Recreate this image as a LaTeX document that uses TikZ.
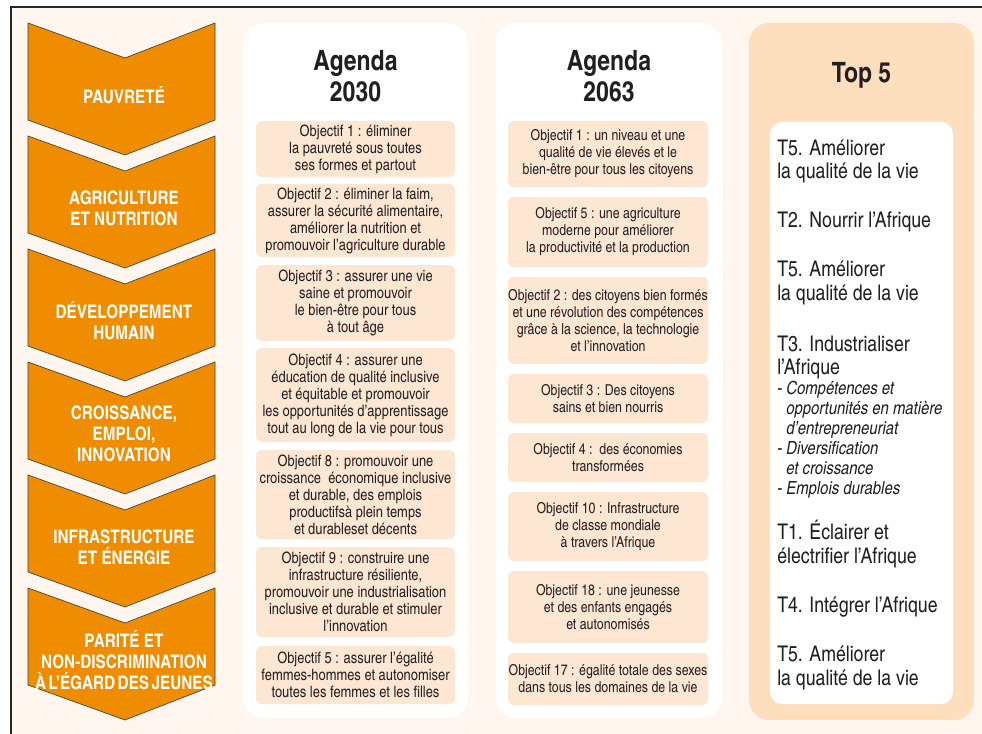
\documentclass[tikz,border=0pt]{standalone}
\usepackage{fontspec}
\setmainfont{texgyreheroscn}[Extension=.otf, UprightFont=*-regular, BoldFont=*-bold, ItalicFont=*-italic, BoldItalicFont=*-bolditalic]

\definecolor{cream}{HTML}{FEF6EF}
\definecolor{chevorange}{HTML}{F08C00}
\definecolor{objfill}{HTML}{FDE7D3}
\definecolor{toppeach}{HTML}{FDDFBD}
\definecolor{ink}{HTML}{231F20}

\tikzset{
  chevron/.style={fill=chevorange, draw=black!75, line width=0.5pt},
  themelabel/.style={text=white, font=\bfseries\fontsize{14}{15.75}\selectfont, align=center, inner sep=0pt},
  panel/.style={fill=white, rounded corners=15pt},
  objbox/.style={fill=objfill, rounded corners=4.5pt},
  objtext/.style={text=ink, font=\fontsize{11.8}{12.75}\selectfont, align=center, inner sep=0pt},
  heading/.style={text=ink, font=\bfseries\fontsize{21}{23.5}\selectfont, align=center, inner sep=0pt},
  topitem/.style={text=ink, font=\fontsize{16.2}{17.5}\selectfont, align=left, anchor=west, inner sep=0pt},
  subitem/.style={text=ink, font=\itshape\fontsize{13.6}{15}\selectfont, align=left, anchor=west, inner sep=0pt}
}

\begin{document}
\begin{tikzpicture}[x=0.75pt, y=-0.75pt]
  \useasboundingbox (0,0) rectangle (982,734);
  \fill[white] (0,0) rectangle (982,734);
  \fill[cream] (11,7) rectangle (982,734);
  \draw[black!85, line width=1.2pt] (982,7) -- (11,7) -- (11,734);

  % themes
  \foreach \t/\name/\txt in {23/pov/{PAUVRETÉ}, 136/agr/{AGRICULTURE\\ET NUTRITION},
      249/dev/{DÉVELOPPEMENT\\HUMAIN}, 362/cro/{CROISSANCE,\\EMPLOI,\\INNOVATION},
      475/inf/{INFRASTRUCTURE\\ET ÉNERGIE},
      588/par/{PARITÉ ET\\NON-DISCRIMINATION\\À\hspace{0.13em}L’ÉGARD\hspace{0.13em}DES\hspace{0.13em}JEUNES}} {
    \draw[chevron] (28,\t) -- (125,\t+35) -- (215,\t) -- (215,\t+97) -- (125,\t+132) -- (28,\t+97) -- cycle;
    \node[themelabel] (\name) at (124,\t+72) {\txt};
  }

  % panels
  \fill[panel] (243,23) rectangle (468,718);
  \fill[panel] (496,23) rectangle (722,718);
  \fill[panel, fill=toppeach] (749,23) rectangle (974,720);
  \fill[white, rounded corners=9pt] (770,122) rectangle (953,704);
  \node[heading] (ag30) at (355.5,76) {Agenda\\2030};
  \node[heading] (ag63) at (609,76) {Agenda\\2063};
  \node[heading] (top) at (861.5,75.5) {Top 5};

  % Agenda 2030
  \foreach \ya/\yb/\name/\txt in {121/177/a1/{Objectif 1 : éliminer\\la pauvreté sous toutes\\ses formes et partout},
      184/257/a2/{Objectif 2 : éliminer la faim,\\assurer la sécurité alimentaire,\\améliorer la nutrition et\\promouvoir l’agriculture durable},
      265/341/a3/{Objectif 3 : assurer une vie\\saine et promouvoir\\le bien-être pour tous\\à tout âge},
      348/442/a4/{Objectif 4 : assurer une\\éducation de qualité inclusive\\et équitable et promouvoir\\les opportunités d’apprentissage\\tout au long de la vie pour tous},
      450/539/a8/{Objectif 8 : promouvoir une\\croissance\ \ économique inclusive\\et durable, des emplois\\productifsà plein temps\\et durableset décents},
      547/637/a9/{Objectif 9 : construire une\\infrastructure résiliente,\\promouvoir une industrialisation\\inclusive et durable et stimuler\\l’innovation},
      646/704/a5/{Objectif 5 : assurer l’égalité\\femmes-hommes et autonomiser\\toutes les femmes et les filles}} {
    \fill[objbox] (256,\ya) rectangle (455,\yb);
    \node[objtext] (\name) at (355.5,{(\ya+\yb)/2}) {\txt};
  }

  % Agenda 2063
  \foreach \ya/\yb/\name/\txt in {121/187/b1/{Objectif 1 : un niveau et une\\qualité de vie élevés et le\\bien-être pour tous les citoyens},
      197/267/b5/{Objectif 5 : une agriculture\\moderne pour améliorer\\la productivité et la production},
      277/364/b2/{Objectif 2 : des citoyens bien formés\\et une révolution des compétences\\grâce à la science, la technologie\\et l’innovation},
      374/423/b3/{Objectif 3 : Des citoyens\\sains et bien nourris},
      433/482/b4/{Objectif 4 :\ \ des économies\\transformées},
      492/561/b10/{Objectif 10 : Infrastructure\\de classe mondiale\\à travers l’Afrique},
      571/643/b18/{Objectif 18 : une jeunesse\\et des enfants engagés\\et autonomisés},
      653/705/b17/{Objectif 17 : égalité totale des sexes\\dans tous les domaines de la vie}} {
    \fill[objbox] (508,\ya) rectangle (708,\yb);
    \node[objtext, font=\fontsize{11.3}{12.75}\selectfont] (\name) at (608,{(\ya+\yb)/2}) {\txt};
  }

  % Top 5
  \node[topitem] (t1) at (777,161.5) {T5. Améliorer\\la qualité de la vie};
  \node[topitem] (t2) at (777,222) {T2. Nourrir l’Afrique};
  \node[topitem] (t3) at (777,283) {T5. Améliorer\\la qualité de la vie};
  \node[topitem] (t4) at (777,357.5) {T3. Industrialiser\\l’Afrique};
  \node[subitem] (t4s) at (777,440) {- Compétences et\\\phantom{- }opportunités en matière\\\phantom{- }d’entrepreneuriat\\- Diversification\\\phantom{- }et croissance\\- Emplois durables};
  \node[topitem] (t5) at (777,544) {T1. Éclairer et\\électrifier l’Afrique};
  \node[topitem] (t6) at (777,607) {T4. Intégrer l’Afrique};
  \node[topitem] (t7) at (777,668) {T5. Améliorer\\la qualité de la vie};
\end{tikzpicture}
\end{document}
